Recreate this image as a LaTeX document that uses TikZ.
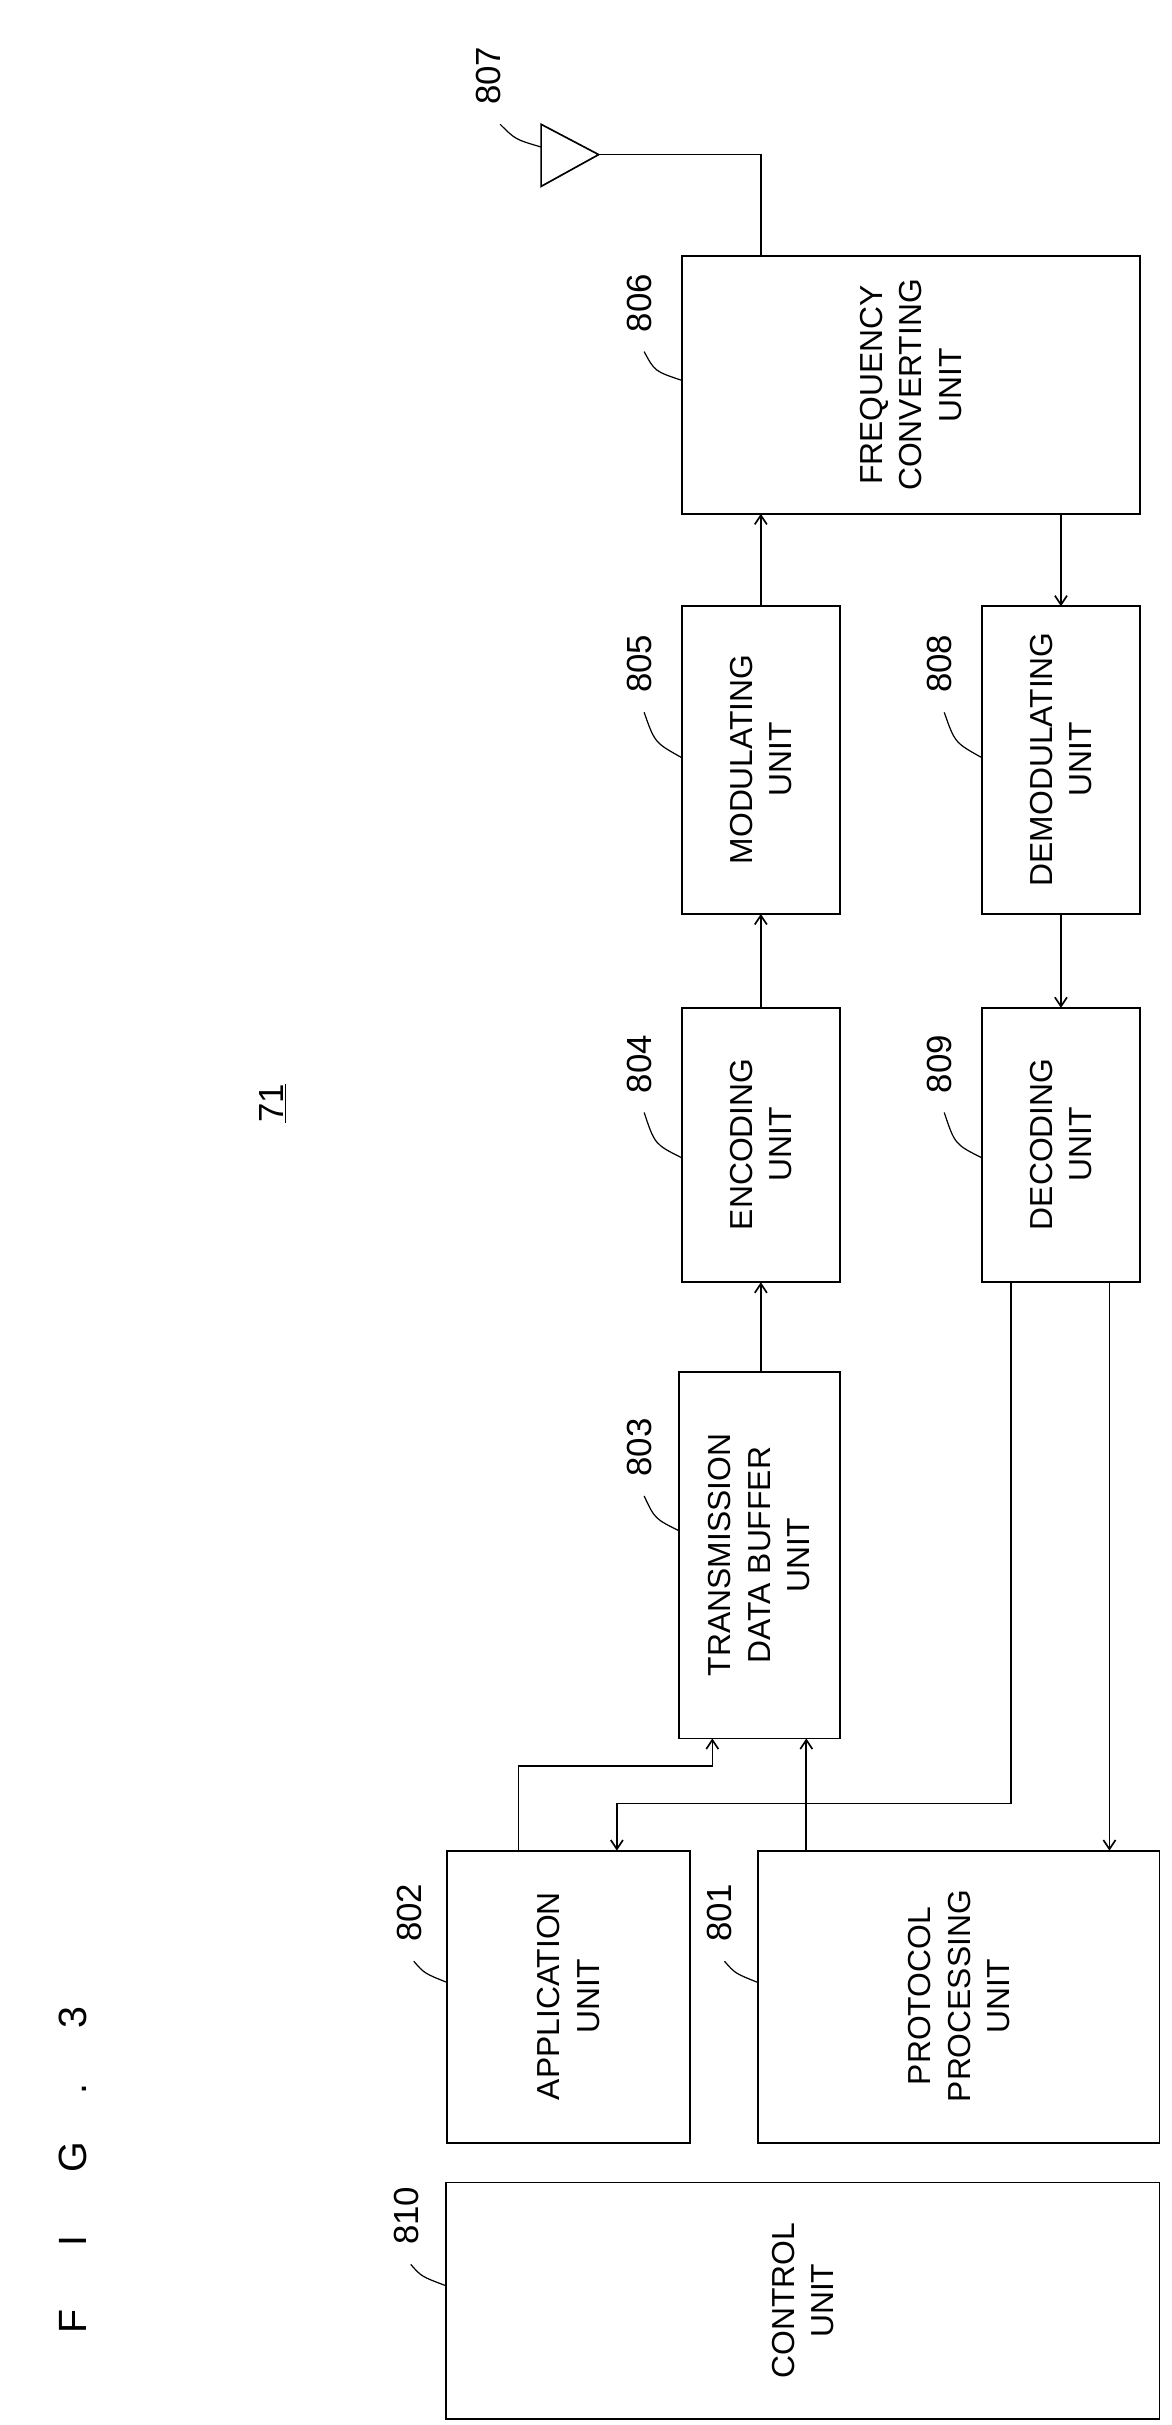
\documentclass[tikz,border=0pt]{standalone}
\usepackage{fontspec}
\setmainfont{Liberation Sans}
\usetikzlibrary{arrows.meta}
\begin{document}
\begin{tikzpicture}[x=1pt,y=-1pt,
  box/.style={draw,line width=1.2pt},
  txt/.style={rotate=90,align=center,font=\fontsize{21}{26}\selectfont,inner sep=0},
  lab/.style={rotate=90,font=\fontsize{23}{27}\selectfont,inner sep=1pt},
  ar/.style={line width=1.1pt,-{Straight Barb[length=6pt,width=8pt]}},
  ln/.style={line width=1.1pt},
  ld/.style={line width=0.8pt}]
\useasboundingbox (0,0) rectangle (773,1600);
% boxes
\draw[box] (450,169) rectangle (752,339);
\node[txt] (t806) at (601,254) {FREQUENCY\\CONVERTING\\UNIT};
\draw[box] (450,400) rectangle (554,603);
\node[txt] (t805) at (502,501) {MODULATING\\UNIT};
\draw[box] (450,665) rectangle (554,846);
\node[txt] (t804) at (502,755) {ENCODING\\UNIT};
\draw[box] (448,905) rectangle (554,1147);
\node[txt] (t803) at (501,1026) {TRANSMISSION\\DATA BUFFER\\UNIT};
\draw[box] (648,400) rectangle (752,603);
\node[txt] (t808) at (700,501) {DEMODULATING\\UNIT};
\draw[box] (648,665) rectangle (752,846);
\node[txt] (t809) at (700,755) {DECODING\\UNIT};
\draw[box] (295,1221) rectangle (455,1414);
\node[txt] (t802) at (375,1317) {APPLICATION\\UNIT};
\draw[box] (500,1221) rectangle (765,1414);
\node[txt] (t801) at (633,1317) {PROTOCOL\\PROCESSING\\UNIT};
\draw[box] (294,1440) rectangle (765,1596);
\node[txt] (t810) at (530,1518) {CONTROL\\UNIT};
% antenna
\draw[ln] (357,82) -- (357,123) -- (395,102) -- cycle;
\draw[ln] (395,102) -- (502,102) -- (502,169);
% arrows
\draw[ar] (502,400) -- (502,339);
\draw[ar] (502,665) -- (502,603);
\draw[ar] (502,905) -- (502,846);
\draw[ar] (700,339) -- (700,400);
\draw[ar] (700,603) -- (700,665);
\draw[ar] (667,846) -- (667,1190) -- (407,1190) -- (407,1221);
\draw[ar] (732,846) -- (732,1221);
\draw[ar] (342,1221) -- (342,1165) -- (470,1165) -- (470,1147);
\draw[ar] (532,1221) -- (532,1147);
% labels
\node[lab] (l807) at (322,50) {807};
\draw[ld] (330,82) .. controls (340,92) .. (357,97);
\node[lab] (l806) at (422,200) {806};
\draw[ld] (425,232) .. controls (432,245) .. (450,251);
\node[lab] (l805) at (422,438) {805};
\draw[ld] (425,470) .. controls (432,490) .. (450,500);
\node[lab] (l804) at (422,702) {804};
\draw[ld] (425,734) .. controls (432,755) .. (450,764);
\node[lab] (l803) at (422,955) {803};
\draw[ld] (425,987) .. controls (432,1002) .. (448,1010);
\node[lab] (l808) at (620,438) {808};
\draw[ld] (623,470) .. controls (630,490) .. (648,500);
\node[lab] (l809) at (620,702) {809};
\draw[ld] (623,734) .. controls (630,755) .. (648,764);
\node[lab] (l802) at (270,1262) {802};
\draw[ld] (273,1294) .. controls (280,1302) .. (295,1308);
\node[lab] (l801) at (475,1262) {801};
\draw[ld] (478,1294) .. controls (485,1302) .. (500,1308);
\node[lab] (l810) at (268,1462) {810};
\draw[ld] (271,1494) .. controls (278,1502) .. (294,1508);
\node[lab] (l71) at (180,728) {\underline{71}};
\node[rotate=90,font=\fontsize{26}{30}\selectfont] (fig) at (48,1432) {F\hspace{1.6em}I\hspace{1.6em}G\hspace{1.2em}.\hspace{1.4em}3};
\end{tikzpicture}
\end{document}
